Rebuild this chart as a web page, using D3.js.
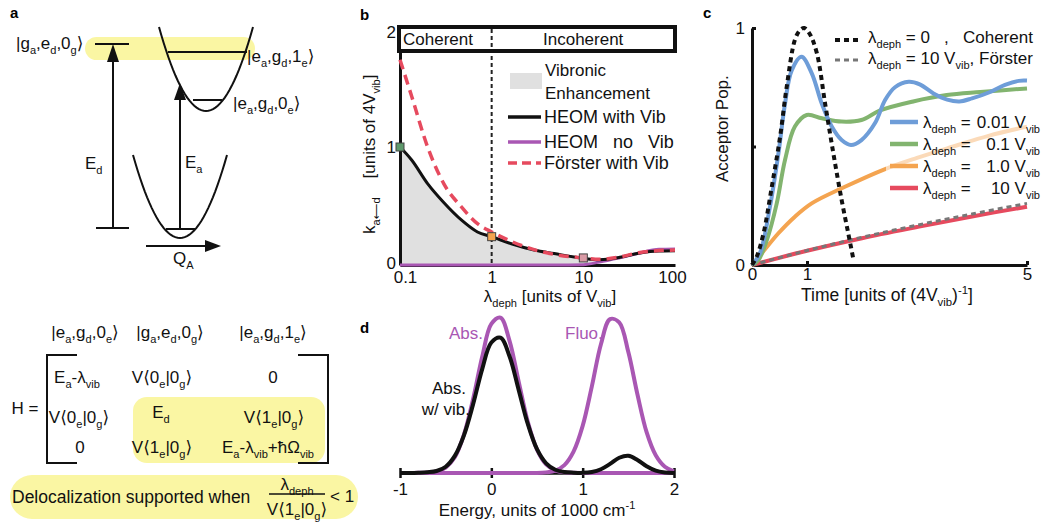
<!DOCTYPE html>
<html><head><meta charset="utf-8">
<script src="https://cdn.jsdelivr.net/npm/d3@7"></script>
<style>
body{margin:0;background:#fff;}
svg{font-family:"Liberation Sans",Arial,"DejaVu Sans",sans-serif;}
text{white-space:pre;}
</style></head><body>
<script>
// ---------------- DATA ----------------
// Panel b: transfer rate vs dephasing strength
const lambdaDeph   = [0.1,0.134,0.2,0.3,0.47,0.7,1,1.64,2.9,4.8,10,15,25,40,67,100];
const heomWithVib  = [1.0,0.89,0.69,0.53,0.38,0.28,0.24,0.18,0.127,0.097,0.057,0.045,0.065,0.1,0.119,0.12];
const heomNoVib    = [0,0,0,0,0,0,0,0,0,0,0.003,0.025,0.062,0.1,0.133,0.136];
const forsterVib   = [1.74,1.43,1.0,0.69,0.49,0.35,0.28,0.2,0.13,0.09,0.06,0.048,0.068,0.104,0.122,0.127];
const markerLambda = [0.1,1,10];
const markerRate   = [1.0,0.24,0.06];
const bXTicks = [0.1,1,10,100];
const bYTicks = [0,1,2];
const bLegend = ["HEOM with Vib","HEOM   no   Vib","Förster with Vib"];

// Panel c: acceptor population vs time
const cohT   = [0,0.085,0.21,0.36,0.51,0.63,0.78,0.87,0.95,1.05,1.18,1.33,1.48,1.63,1.75,1.84];
const cohPop = [0,0.035,0.134,0.33,0.54,0.75,0.95,0.99,1.0,0.975,0.893,0.68,0.47,0.274,0.134,0.028];
const blueT  = [0,0.145,0.33,0.48,0.6,0.72,0.9,1.085,1.27,1.45,1.63,1.8,1.99,2.24,2.42,2.6,2.85,3.05,3.3,3.55,3.77,4.0,4.33,4.6,4.85,5];
const bluePop= [0,0.05,0.25,0.47,0.68,0.82,0.879,0.81,0.68,0.584,0.527,0.506,0.527,0.6,0.696,0.75,0.773,0.762,0.724,0.698,0.69,0.703,0.73,0.76,0.777,0.778];
const greenT = [0,0.115,0.27,0.45,0.6,0.78,0.995,1.27,1.63,1.99,2.33,2.93,3.54,4.15,5];
const greenPop=[0,0.02,0.105,0.26,0.443,0.584,0.633,0.619,0.605,0.612,0.652,0.69,0.717,0.73,0.745];
const orangeT= [0,0.18,0.48,0.78,1.085,1.69,2.42,3.0,3.66,4.3,5];
const orangePop=[0,0.05,0.134,0.204,0.26,0.33,0.405,0.452,0.5,0.545,0.584];
const redT   = [0,1,2,3,4,5];
const redPop = [0,0.06,0.113,0.16,0.205,0.246];
const forsterPop=[0,0.061,0.117,0.168,0.215,0.26];
const cXTicks = [0,1,5];
const cYTicks = [0,0.5,1];
const cLegendVals = ["0.01 V_{vib}","0.1 V_{vib}","1.0 V_{vib}","10 V_{vib}"];

// Panel d: spectra
const energy  = [-1.0,-0.9,-0.8,-0.7,-0.6,-0.5,-0.4,-0.3,-0.2,-0.1,0,0.1,0.2,0.3,0.4,0.5,0.6,0.7,0.8,0.9,1.0,1.1,1.2,1.3,1.4,1.5,1.6,1.7,1.8,1.9,2.0];
const absNoVib= [0,0,0.001,0.003,0.010,0.035,0.10,0.244,0.47,0.74,0.95,0.99,0.84,0.58,0.325,0.149,0.055,0.017,0.004,0.001,0,0,0,0,0,0,0,0,0,0,0];
const fluoNoVib=[0,0,0,0,0,0,0,0,0,0,0,0,0,0,0,0,0.004,0.015,0.05,0.136,0.30,0.55,0.82,0.98,0.96,0.77,0.50,0.26,0.113,0.04,0.011];
const absVib  = [0,0.0005,0.002,0.005,0.0125,0.04,0.109,0.24,0.437,0.662,0.831,0.862,0.742,0.528,0.311,0.152,0.062,0.021,0.006,0.002,0.001,0.0065,0.024,0.058,0.097,0.11,0.083,0.043,0.015,0.0035,0];
const dXTicks = [-1,0,1,2];

// ---------------- HELPERS ----------------
const svg = d3.select("body").append("svg").attr("width",1041).attr("height",527);
function rich(g, x, y, s, o={}) {
  const fs = o.size||17;
  const t = g.append("text").attr("x",x).attr("y",y).attr("font-size",fs)
    .attr("text-anchor",o.anchor||"start").attr("fill",o.fill||"#111");
  if (o.transform) t.attr("transform",o.transform);
  if (o.weight) t.attr("font-weight",o.weight);
  const re=/([_^])\{([^}]*)\}/g; let last=0,m; const parts=[];
  while((m=re.exec(s))){ if(m.index>last) parts.push({t:s.slice(last,m.index),k:0});
    parts.push({t:m[2],k:m[1]==="_"?1:-1}); last=re.lastIndex; }
  if(last<s.length) parts.push({t:s.slice(last),k:0});
  let cur=0;
  parts.forEach(p=>{ const target=p.k===1?fs*0.28:(p.k===-1?-fs*0.42:0);
    const ts=t.append("tspan").text(p.t); if(target-cur!==0) ts.attr("dy",target-cur);
    if(p.k) ts.attr("font-size",fs*0.65); cur=target; });
  return t;
}
const C = {blue:"#6e9dd8",green:"#82b46f",orange:"#f4a450",red:"#e64a5e",purple:"#a957b3",yellow:"#faf6a3",gray:"#e0e0e0"};

// ---------------- PANEL A ----------------
const a = svg.append("g");
a.append("text").attr("x",10).attr("y",18).attr("font-size",15).attr("font-weight","bold").text("a");
a.append("rect").attr("x",85).attr("y",37).attr("width",170).attr("height",23).attr("rx",11.5).attr("fill",C.yellow);
const well = (cx,vy,w,h)=>d3.line()(d3.range(-1,1.0001,0.05).map(t=>[cx+t*w, vy-h*t*t]));
a.append("path").attr("d",well(180,238,47,83)).attr("fill","none").attr("stroke","#111").attr("stroke-width",2);
a.append("path").attr("d",well(206,111,47,84)).attr("fill","none").attr("stroke","#111").attr("stroke-width",2);
const seg=(x1,y1,x2,y2,w=2)=>a.append("line").attr("x1",x1).attr("y1",y1).attr("x2",x2).attr("y2",y2).attr("stroke","#111").attr("stroke-width",w);
seg(95,44,129,44); seg(96,228,129,228); seg(113,228,113,58);
seg(168,52,247,52); seg(193,100,222,100); seg(166,229,195,229); seg(180,229,180,97);
seg(146,246,208,246);
const tri=(pts)=>a.append("polygon").attr("points",pts.map(p=>p.join(",")).join(" ")).attr("fill","#111");
tri([[113,44],[107,62],[119,62]]); tri([[180,83],[174,100],[186,100]]); tri([[221,246],[205,240],[205,252]]);
rich(a,16,49,"|g_{a},e_{d},0_{g}⟩",{size:17});
rich(a,247,62,"|e_{a},g_{d},1_{e}⟩",{size:17});
rich(a,233,109,"|e_{a},g_{d},0_{e}⟩",{size:17});
rich(a,85,169,"E_{d}",{size:17});
rich(a,185,168,"E_{a}",{size:17});
rich(a,173,264,"Q_{A}",{size:17});

// Hamiltonian
a.append("rect").attr("x",133).attr("y",397).attr("width",192).attr("height",66).attr("rx",14).attr("fill",C.yellow);
a.append("path").attr("d","M77,355 H47 V463 H77").attr("fill","none").attr("stroke","#111").attr("stroke-width",2);
a.append("path").attr("d","M298,355 H328 V463 H298").attr("fill","none").attr("stroke","#111").attr("stroke-width",2);
const hm=[["|e_{a},g_{d},0_{e}⟩",85,332],["|g_{a},e_{d},0_{g}⟩",170,332],["|e_{a},g_{d},1_{e}⟩",273,332],
 ["E_{a}-λ_{vib}",77,377],["V⟨0_{e}|0_{g}⟩",162,377],["0",273,377],
 ["V⟨0_{e}|0_{g}⟩",79,417],["E_{d}",161,412],["V⟨1_{e}|0_{g}⟩",274,417],
 ["0",80,447],["V⟨1_{e}|0_{g}⟩",162,447],["E_{a}-λ_{vib}+ħΩ_{vib}",268,447]];
hm.forEach(d=>rich(a,d[1],d[2]+6,d[0],{size:17,anchor:"middle"}));
rich(a,25,414,"H =",{size:17,anchor:"middle"});
a.append("rect").attr("x",10).attr("y",475).attr("width",348).attr("height",44).attr("rx",22).attr("fill",C.yellow);
rich(a,12,503,"Delocalization supported when",{size:17.5});
rich(a,297,490,"λ_{deph}",{size:17,anchor:"middle"});
seg(269,494,325,494,1.3);
rich(a,297,515,"V⟨1_{e}|0_{g}⟩",{size:17,anchor:"middle"});
rich(a,330,502,"< 1",{size:17});

// ---------------- PANEL B ----------------
const b = svg.append("g");
b.append("text").attr("x",360).attr("y",20).attr("font-size",15).attr("font-weight","bold").text("b");
const xb = d3.scaleLog().domain([0.1,100]).range([400,675]);
const yb = d3.scaleLinear().domain([0,2]).range([265,29]);
const bIdx = d3.range(lambdaDeph.length);
b.append("path").datum(bIdx).attr("fill",C.gray)
 .attr("d",d3.area().x(i=>xb(lambdaDeph[i])).y0(i=>yb(Math.min(heomNoVib[i],heomWithVib[i]))).y1(i=>yb(heomWithVib[i])).curve(d3.curveMonotoneX));
b.append("line").attr("x1",xb(1)).attr("x2",xb(1)).attr("y1",28).attr("y2",265).attr("stroke","#222").attr("stroke-width",2).attr("stroke-dasharray","4,3");
const gx=b.append("g").attr("transform","translate(0,265)").call(d3.axisBottom(xb).tickValues(bXTicks).tickFormat(d=>String(d)).tickSize(0).tickPadding(6));
const gy=b.append("g").attr("transform","translate(400,0)").call(d3.axisLeft(yb).tickValues(bYTicks).tickFormat(d3.format("d")).tickSize(0).tickPadding(4));
[gx,gy].forEach(g=>{g.select(".domain").attr("stroke","#111").attr("stroke-width",3);
  g.selectAll("text").attr("font-size",17).attr("font-family",null).attr("fill","#111");});
gy.selectAll(".tick").filter(d=>d===2).attr("transform","translate(0,33)");
gy.selectAll(".tick").filter(d=>d===0).select("text").attr("dy","0.2em");
gx.selectAll(".tick").filter(d=>d===0.1).select("text").attr("x",5);
gx.selectAll(".tick").filter(d=>d===100).select("text").attr("x",-3);
const lb = (arr)=>d3.line().x(i=>xb(lambdaDeph[i])).y(i=>yb(arr[i])).curve(d3.curveMonotoneX)(bIdx);
b.append("path").attr("d",lb(heomNoVib)).attr("fill","none").attr("stroke",C.purple).attr("stroke-width",3);
b.append("path").attr("d",lb(heomWithVib)).attr("fill","none").attr("stroke","#111").attr("stroke-width",3);
b.append("path").attr("d",lb(forsterVib)).attr("fill","none").attr("stroke",C.red).attr("stroke-width",3.5).attr("stroke-dasharray","10,6");
const sqCol=["#5e9a6c","#f5a34e","#d99aa5"];
b.selectAll("rect.mk").data(markerLambda).join("rect").attr("class","mk")
 .attr("x",(d)=>xb(d)-4).attr("y",(d,i)=>yb(markerRate[i])-4).attr("width",8).attr("height",8)
 .attr("fill",(d,i)=>sqCol[i]).attr("stroke","#444").attr("stroke-width",1);
b.append("rect").attr("x",399).attr("y",27).attr("width",276).attr("height",24).attr("fill","#fff").attr("stroke","#111").attr("stroke-width",4);
b.append("line").attr("x1",xb(1)).attr("x2",xb(1)).attr("y1",29).attr("y2",49).attr("stroke","#222").attr("stroke-width",2).attr("stroke-dasharray","4,3");
rich(b,403,45,"Coherent",{size:17});
rich(b,543,45,"Incoherent",{size:17});
b.append("rect").attr("x",510).attr("y",73).attr("width",32).attr("height",16).attr("fill",C.gray);
rich(b,545,76,"Vibronic",{size:17}); rich(b,545,99,"Enhancement",{size:17});
const bls=[{c:"#111",w:3.5,da:null,y:117},{c:C.purple,w:3.5,da:null,y:142},{c:C.red,w:3.5,da:"9,5",y:163}];
bls.forEach((s,i)=>{ b.append("line").attr("x1",508).attr("x2",541).attr("y1",s.y).attr("y2",s.y).attr("stroke",s.c).attr("stroke-width",s.w).attr("stroke-dasharray",s.da);
  rich(b,544,s.y+6,bLegend[i],{size:18}); });
rich(b,550,302,"λ_{deph} [units of V_{vib}]",{size:17,anchor:"middle"});
rich(b,0,0,"k_{a⟵d}    [units of 4V_{vib}]",{size:17,anchor:"start",transform:"translate(375,234) rotate(-90)"});

// ---------------- PANEL C ----------------
const c = svg.append("g");
c.append("text").attr("x",703).attr("y",18).attr("font-size",15).attr("font-weight","bold").text("c");
const xc = d3.scaleLinear().domain([0,5]).range([752,1027]);
const yc = d3.scaleLinear().domain([0,1]).range([265,28]);
const lc = (T,V)=>d3.line().x((d,i)=>xc(T[i])).y((d,i)=>yc(V[i])).curve(d3.curveCatmullRom)(T);
const cx=c.append("g").attr("transform","translate(0,265)").call(d3.axisBottom(xc).tickValues(cXTicks).tickFormat(d3.format("d")).tickSizeInner(-4).tickSizeOuter(0).tickPadding(3));
const cy=c.append("g").attr("transform","translate(752,0)").call(d3.axisLeft(yc).tickValues(cYTicks).tickFormat(d=>d===0.5?"":String(d)).tickSizeInner(-4).tickSizeOuter(0).tickPadding(7));
[cx,cy].forEach(g=>{g.select(".domain").attr("stroke","#111").attr("stroke-width",3);
  g.selectAll("line").attr("stroke","#111").attr("stroke-width",3);
  g.selectAll("text").attr("font-size",17).attr("font-family",null).attr("fill","#111");});
c.append("path").attr("d",lc(redT,redPop)).attr("fill","none").attr("stroke",C.red).attr("stroke-width",4);
c.append("path").attr("d",lc(redT,forsterPop)).attr("fill","none").attr("stroke","#777").attr("stroke-width",3).attr("stroke-dasharray","5,4");
c.append("path").attr("d",lc(orangeT,orangePop)).attr("fill","none").attr("stroke",C.orange).attr("stroke-width",4);
c.append("path").attr("d",lc(greenT,greenPop)).attr("fill","none").attr("stroke",C.green).attr("stroke-width",4);
c.append("path").attr("d",lc(blueT,bluePop)).attr("fill","none").attr("stroke",C.blue).attr("stroke-width",4);
c.append("path").attr("d",lc(cohT,cohPop)).attr("fill","none").attr("stroke","#111").attr("stroke-width",4).attr("stroke-dasharray","5,4");
c.append("rect").attr("x",886).attr("y",111).attr("width",155).attr("height",88).attr("fill","#fff").attr("opacity",0.6);
c.append("line").attr("x1",835).attr("x2",862).attr("y1",40).attr("y2",40).attr("stroke","#111").attr("stroke-width",4).attr("stroke-dasharray","5,4");
rich(c,868,43,"λ_{deph} = 0   ,   Coherent",{size:17});
c.append("line").attr("x1",835).attr("x2",862).attr("y1",60).attr("y2",60).attr("stroke","#777").attr("stroke-width",3).attr("stroke-dasharray","5,4");
rich(c,868,64,"λ_{deph} = 10 V_{vib}, Förster",{size:17});
const lcol=[C.blue,C.green,C.orange,C.red], ly=[122,144,166,188];
cLegendVals.forEach((v,i)=>{ c.append("line").attr("x1",890).attr("x2",918).attr("y1",ly[i]).attr("y2",ly[i]).attr("stroke",lcol[i]).attr("stroke-width",4.5);
  rich(c,923,ly[i]+6,"λ_{deph} =",{size:17}); rich(c,1040,ly[i]+6,v,{size:17,anchor:"end"}); });
rich(c,887,301,"Time [units of (4V_{vib})^{-1}]",{size:17.5,anchor:"middle"});
rich(c,0,0,"Acceptor Pop.",{size:17,anchor:"start",transform:"translate(728,182) rotate(-90)"});

// ---------------- PANEL D ----------------
const d = svg.append("g");
d.append("text").attr("x",360).attr("y",333).attr("font-size",15).attr("font-weight","bold").text("d");
const xd = d3.scaleLinear().domain([-1,2]).range([400,674]);
const yd = d3.scaleLinear().domain([0,1]).range([473,316]);
const dx=d.append("g").attr("transform","translate(0,473)").call(d3.axisBottom(xd).tickValues(dXTicks).tickFormat(d3.format("d")).tickSizeInner(5).tickSizeOuter(0).tickPadding(5));
dx.select(".domain").attr("stroke","#111").attr("stroke-width",2.5);
dx.selectAll(".tick line").attr("y1",-5).attr("y2",5).attr("stroke","#111").attr("stroke-width",2.5);
dx.selectAll("text").attr("font-size",17).attr("font-family",null).attr("fill","#111").text(v=>v<0?"-"+Math.abs(v):v);
const ld=(V)=>d3.line().x((e,i)=>xd(energy[i])).y((e,i)=>yd(V[i])).curve(d3.curveCatmullRom)(energy);
d.append("path").attr("d",ld(absNoVib)).attr("fill","none").attr("stroke",C.purple).attr("stroke-width",4);
d.append("path").attr("d",ld(fluoNoVib)).attr("fill","none").attr("stroke",C.purple).attr("stroke-width",4);
d.append("path").attr("d",ld(absVib)).attr("fill","none").attr("stroke","#111").attr("stroke-width",4);
rich(d,483,339,"Abs.",{size:17,anchor:"end",fill:C.purple});
rich(d,565,339,"Fluo.",{size:17,fill:C.purple});
rich(d,466,394,"Abs.",{size:17,anchor:"end"});
rich(d,470,415,"w/ vib.",{size:17,anchor:"end"});
rich(d,537,516,"Energy, units of 1000 cm^{-1}",{size:17,anchor:"middle"});
</script>
</body></html>
